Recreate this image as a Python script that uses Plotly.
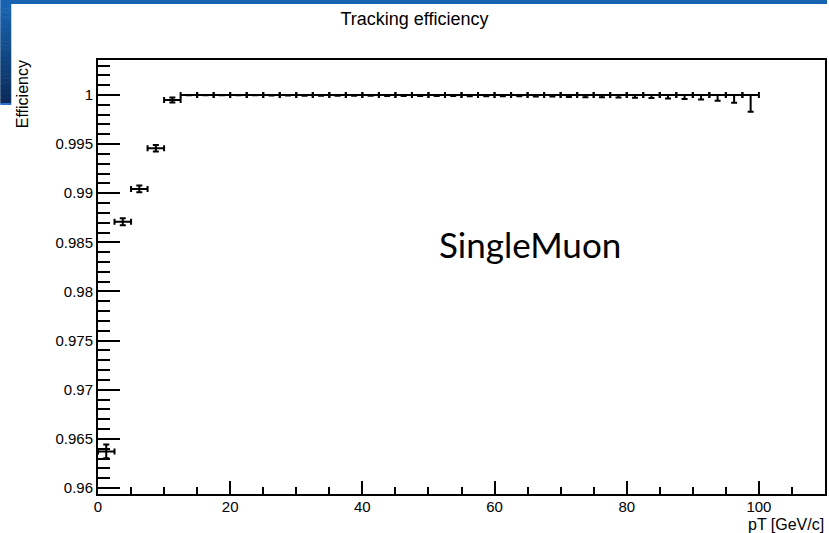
import plotly.graph_objects as go

# ---------------- data ----------------
pt_center = [1.25, 3.75, 6.25, 8.75, 11.25, 13.75, 16.25, 18.75, 21.25, 23.75,
             26.25, 28.75, 31.25, 33.75, 36.25, 38.75, 41.25, 43.75, 46.25, 48.75,
             51.25, 53.75, 56.25, 58.75, 61.25, 63.75, 66.25, 68.75, 71.25, 73.75,
             76.25, 78.75, 81.25, 83.75, 86.25, 88.75, 91.25, 93.75, 96.25, 98.75]
BIN_HALF_WIDTH = 1.25

efficiency = [0.96372, 0.98710, 0.99044, 0.99458, 0.99949,
              1.0, 1.0, 1.0, 1.0, 1.0, 1.0, 1.0, 1.0, 1.0, 1.0,
              1.0, 1.0, 1.0, 1.0, 1.0, 1.0, 1.0, 1.0, 1.0, 1.0,
              1.0, 1.0, 1.0, 1.0, 1.0, 1.0, 1.0, 1.0, 1.0, 1.0,
              1.0, 1.0, 1.0, 1.0, 1.0]

err_up = [0.0007, 0.00035, 0.00034, 0.00034, 0.00025,
          0, 0, 0, 0, 0, 0, 0, 0, 0, 0,
          0, 0, 0, 0, 0, 0, 0, 0, 0, 0,
          0, 0, 0, 0, 0, 0, 0, 0, 0, 0,
          0, 0, 0, 0, 0]

err_low = [0.0007, 0.00035, 0.00034, 0.00034, 0.00025,
           0.00003, 0.00003, 0.00003, 0.00003, 0.00004,
           0.00005, 0.00006, 0.00007, 0.00007, 0.00008,
           0.00008, 0.00009, 0.0001, 0.0001, 0.0001,
           0.00011, 0.00011, 0.00012, 0.00012, 0.00013,
           0.00014, 0.00015, 0.00016, 0.0002, 0.00022,
           0.00024, 0.00025, 0.00027, 0.0003, 0.00035,
           0.0004, 0.00045, 0.0006, 0.0008, 0.0017]

x_ticks = [0, 20, 40, 60, 80, 100]
y_ticks = [0.96, 0.965, 0.97, 0.975, 0.98, 0.985, 0.99, 0.995, 1.0]
y_tick_text = ["0.96", "0.965", "0.97", "0.975", "0.98", "0.985", "0.99", "0.995", "1"]

# ---------------- layout geometry ----------------
W, H = 829, 533
L, R, T, B = 98, 2, 60, 39
PW, PH = W - L - R, H - T - B


def px_x(px):
    return (px - L) / PW


def px_y(py):
    return (H - B - py) / PH


FONT = "Liberation Sans, Arial, Helvetica, sans-serif"

fig = go.Figure()
fig.add_trace(go.Scatter(
    x=pt_center, y=efficiency, mode="markers",
    marker=dict(size=1, color="black"),
    error_x=dict(type="constant", value=BIN_HALF_WIDTH, color="black",
                 thickness=2, width=3),
    error_y=dict(type="data", symmetric=False, array=err_up, arrayminus=err_low,
                 color="black", thickness=2, width=3),
    showlegend=False, hoverinfo="x+y",
))

shapes = []
# top blue band
shapes.append(dict(type="rect", xref="paper", yref="paper",
                   x0=px_x(0), x1=px_x(W), y0=px_y(4), y1=px_y(0),
                   fillcolor="#1763b0", line=dict(width=0), layer="above"))
# left blue strip with gradient
n = 24
top_c = (0x19, 0x64, 0xb2)
bot_c = (0x0b, 0x2c, 0x5a)
y_start, y_end = 4, 103
for i in range(n):
    f = i / (n - 1)
    c = tuple(int(round(top_c[k] + (bot_c[k] - top_c[k]) * f)) for k in range(3))
    ya = y_start + (y_end - y_start) * i / n
    yb = y_start + (y_end - y_start) * (i + 1) / n
    shapes.append(dict(type="rect", xref="paper", yref="paper",
                       x0=px_x(0), x1=px_x(11), y0=px_y(yb + 0.5), y1=px_y(ya),
                       fillcolor="rgb(%d,%d,%d)" % c, line=dict(width=0), layer="above"))
shapes.append(dict(type="rect", xref="paper", yref="paper",
                   x0=px_x(0), x1=px_x(11), y0=px_y(105), y1=px_y(103),
                   fillcolor="#2a6fd6", line=dict(width=0), layer="above"))
fig.update_layout(shapes=shapes)

fig.update_layout(
    width=W, height=H,
    margin=dict(l=L, r=R, t=T, b=B, pad=0),
    paper_bgcolor="white", plot_bgcolor="white",
    font=dict(family=FONT, color="black", size=15),
    title=dict(text="Tracking efficiency", x=0.5, xref="container", xanchor="center",
               y=1 - 19 / H, yref="container", yanchor="middle",
               font=dict(family=FONT, size=18, color="black")),
    xaxis=dict(range=[0, 110], tickmode="array", tickvals=x_ticks,
               ticks="inside", ticklen=13, tickwidth=2, tickcolor="black",
               minor=dict(dtick=5, ticks="inside", ticklen=7, tickwidth=2, tickcolor="black"),
               showline=True, linewidth=2, linecolor="black", mirror=True,
               showgrid=False, zeroline=False, ticklabelstandoff=-2,
               tickfont=dict(family=FONT, size=15, color="black")),
    yaxis=dict(range=[0.95939, 1.00356], tickmode="array", tickvals=y_ticks,
               ticktext=y_tick_text,
               ticks="inside", ticklen=22, tickwidth=2, tickcolor="black",
               minor=dict(dtick=0.001, tick0=0.96, ticks="inside", ticklen=12,
                          tickwidth=2, tickcolor="black"),
               showline=True, linewidth=2, linecolor="black", mirror=True,
               showgrid=False, zeroline=False, ticklabelstandoff=0,
               tickfont=dict(family=FONT, size=15, color="black")),
    annotations=[
        dict(text="Efficiency", xref="paper", yref="paper", x=px_x(23), y=px_y(58),
             xanchor="center", yanchor="top", textangle=-90, showarrow=False,
             font=dict(family=FONT, size=16, color="black")),
        dict(text="pT [GeV/c]", xref="paper", yref="paper", x=px_x(828), y=px_y(524),
             xanchor="right", yanchor="middle", showarrow=False,
             font=dict(family=FONT, size=16, color="black")),
        dict(text="SingleMuon", xref="paper", yref="paper", x=px_x(531), y=px_y(244),
             xanchor="center", yanchor="middle", showarrow=False,
             font=dict(family="Lato, Open Sans, sans-serif", size=35, color="black")),
    ],
)

fig.write_html("out.html")
